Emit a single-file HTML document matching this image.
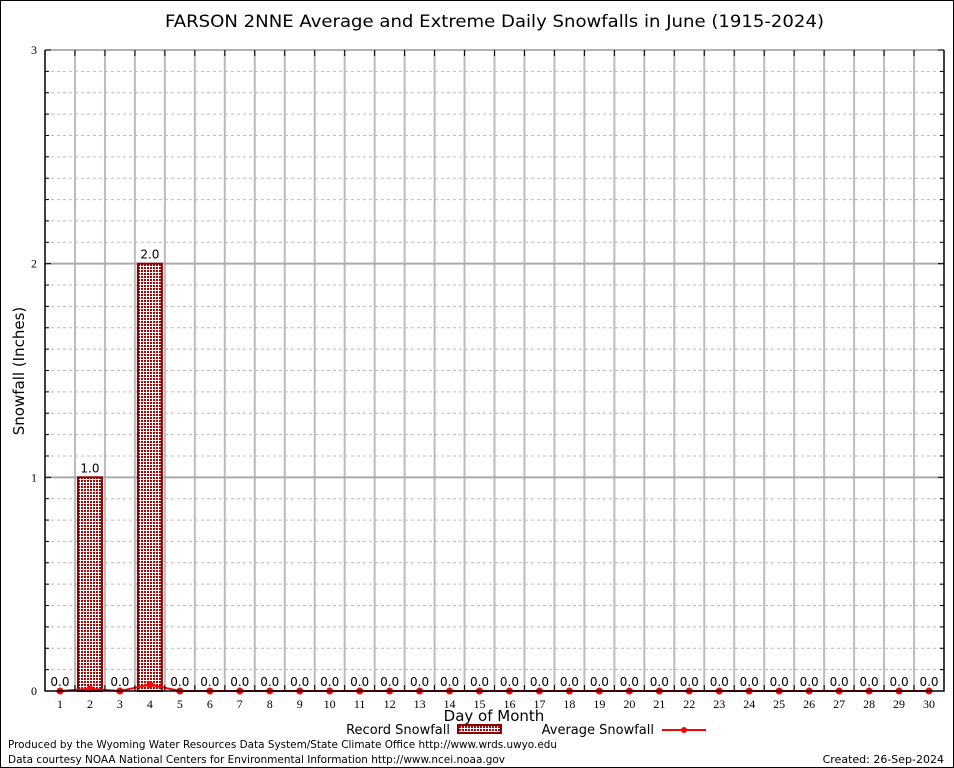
<!DOCTYPE html>
<html><head><meta charset="utf-8"><style>
body{margin:0;background:#fff;}
svg{display:block;font-family:"DejaVu Sans","Liberation Sans",sans-serif;}
</style></head><body>
<svg id="c" width="954" height="768" viewBox="0 0 954 768" xmlns="http://www.w3.org/2000/svg">
<rect x="0.5" y="0.5" width="953" height="767" fill="#fff" stroke="#000"/>
<text x="165" y="27" font-size="17" textLength="659" lengthAdjust="spacingAndGlyphs">FARSON 2NNE Average and Extreme Daily Snowfalls in June (1915-2024)</text>
<g id="grid"></g><g id="bars"></g><g id="line"></g><g id="axes"></g>
<text transform="translate(24,371) rotate(-90)" font-size="15" text-anchor="middle">Snowfall (Inches)</text>
<text x="494" y="721" font-size="15" text-anchor="middle">Day of Month</text>
<g><text x="450" y="734" font-size="13" text-anchor="end">Record Snowfall</text><rect x="458" y="725" width="43" height="8" fill="url(#hatch)" stroke="#8b0000" stroke-width="2"/></g>
<g><text x="654" y="734" font-size="13" text-anchor="end">Average Snowfall</text><line x1="662" y1="730" x2="706" y2="730" stroke="#f00" stroke-width="2"/><circle cx="684" cy="730" r="3" fill="#f00"/></g>
<text x="8" y="748" font-size="11" textLength="549" lengthAdjust="spacingAndGlyphs">Produced by the Wyoming Water Resources Data System/State Climate Office http://www.wrds.uwyo.edu</text>
<text x="8" y="763" font-size="11" textLength="497" lengthAdjust="spacingAndGlyphs">Data courtesy NOAA National Centers for Environmental Information http://www.ncei.noaa.gov</text>
<text x="944" y="763" font-size="11" text-anchor="end">Created: 26-Sep-2024</text>
<defs><pattern id="hatch" width="3" height="3" patternUnits="userSpaceOnUse"><rect width="3" height="3" fill="#fff"/><rect width="2" height="2" fill="#b00000"/></pattern></defs>
</svg>
<script>
const days=[];for(let i=1;i<=30;i++)days.push(i);
const records=[0,1.0,0,2.0,0,0,0,0,0,0,0,0,0,0,0,0,0,0,0,0,0,0,0,0,0,0,0,0,0,0];
const averages=[0,0.01,0,0.03,0,0,0,0,0,0,0,0,0,0,0,0,0,0,0,0,0,0,0,0,0,0,0,0,0,0];
const yTicks=[0,1,2,3];
const L=45,R=944,T=50,B=691;
const xs=d=>L+(d-0.5)*(R-L)/30;
const ys=v=>B-v*(B-T)/3;
const NS='http://www.w3.org/2000/svg';
function mk(p,t,a){const e=document.createElementNS(NS,t);for(const k in a)e.setAttribute(k,a[k]);p.appendChild(e);return e;}
const g=document.getElementById('grid'),ba=document.getElementById('bars'),ln=document.getElementById('line'),ax=document.getElementById('axes');
for(let i=1;i<30;i++){const x=L+i*(R-L)/30;const e=mk(g,'line',{x1:x,x2:x,y1:T,y2:B,stroke:'#bbb','stroke-width':2});

}
for(let k=1;k<30;k++){const v=k/10;const y=ys(v);const major=k%10===0;const e=mk(g,'line',{x1:L,x2:R,y1:y,y2:y,stroke:major?'#aaa':'#bbb','stroke-width':major?2:1,'stroke-dasharray':major?'':'3,3'});

}
days.forEach((d,i)=>{const v=records[i];
if(v>0){const bw=24;const r=mk(ba,'rect',{x:xs(d)-bw/2,y:ys(v),width:bw,height:ys(0)-ys(v),fill:'url(#hatch)',stroke:'#8b0000','stroke-width':2});

}
const t=mk(ba,'text',{x:xs(d),y:ys(v)-5,'font-size':12,'text-anchor':'middle'});t.textContent=v.toFixed(1);

});
const pl=mk(ln,'polyline',{points:days.map((d,i)=>xs(d)+','+ys(averages[i])).join(' '),fill:'none',stroke:'#f00','stroke-width':2});


days.forEach((d,i)=>{const c=mk(ln,'circle',{cx:xs(d),cy:ys(averages[i]),r:3.5,fill:'#f00'});

});
const fr=mk(ax,'path',{d:`M${L},${T}V${B}H${R}V${T}`,fill:'none',stroke:'#000','stroke-width':1.5});


const tp=mk(ax,'line',{x1:L,x2:R,y1:T,y2:T,stroke:'#999','stroke-width':1.5});


for(let i=0;i<=30;i++){const x=L+i*(R-L)/30;mk(ax,'line',{x1:x,x2:x,y1:B,y2:B-6,stroke:'#000'});mk(ax,'line',{x1:x,x2:x,y1:T,y2:T+6,stroke:'#000'});}
for(let k=0;k<=30;k++){const y=ys(k/10);const w=k%10===0?6:4;mk(ax,'line',{x1:L,x2:L+w,y1:y,y2:y,stroke:'#000'});mk(ax,'line',{x1:R,x2:R-w,y1:y,y2:y,stroke:'#000'});}
days.forEach(d=>{const t=mk(ax,'text',{x:xs(d),y:B+17,'font-size':12,'text-anchor':'middle','font-family':'Liberation Serif,serif'});t.textContent=d;

});
yTicks.forEach(v=>{const t=mk(ax,'text',{x:L-8,y:ys(v)+4,'font-size':12,'text-anchor':'end','font-family':'Liberation Serif,serif'});t.textContent=v;

});
</script>
</body></html>
